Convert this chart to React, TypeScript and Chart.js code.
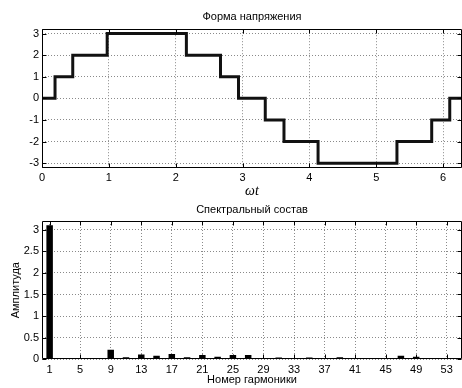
import React, { useEffect, useRef } from "react";
import { Chart, registerables } from "chart.js";
Chart.register(...registerables);

// ---- Data: voltage waveform (staircase) ----
const stepAngles = [0, 0.195, 0.46, 0.975, 2.16, 2.67, 2.94, 3.34, 3.62, 4.13, 5.31, 5.83, 6.1, 2 * Math.PI];
const stepLevels = [0, 1, 2, 3, 2, 1, 0, -1, -2, -3, -2, -1, 0, 0];
const waveXTicks = [0, 1, 2, 3, 4, 5, 6];
const waveYTicks = [-3, -2, -1, 0, 1, 2, 3];

// ---- Data: harmonic spectrum ----
const harmonics = [1, 3, 5, 7, 9, 11, 13, 15, 17, 19, 21, 23, 25, 27, 29, 31, 33, 35, 37, 39, 41, 43, 45, 47, 49, 51, 53];
const amplitudes = [3.1, 0, 0, 0, 0.22, 0.05, 0.11, 0.08, 0.12, 0.05, 0.1, 0.06, 0.1, 0.1, 0.01, 0.04, 0.01, 0.04, 0.01, 0.05, 0.01, 0.02, 0.01, 0.08, 0.06, 0.02, 0.01];
const specXTicks = [1, 5, 9, 13, 17, 21, 25, 29, 33, 37, 41, 45, 49, 53];
const specYTicks = [0, 0.5, 1, 1.5, 2, 2.5, 3];

const FONT = "'Liberation Sans', Arial, sans-serif";

const framePlugin = {
  id: "matlabFrame",
  afterDraw(chart: any) {
    const { ctx, chartArea: a, scales } = chart;
    ctx.save();
    ctx.strokeStyle = "#000";
    ctx.lineWidth = 1;
    const L = Math.round(a.left) + 0.5;
    const R = Math.round(a.right) - 0.5;
    const T = Math.round(a.top) + 0.5;
    const B = Math.round(a.bottom) - 0.5;
    ctx.beginPath();
    ctx.rect(L, T, R - L, B - T);
    ctx.stroke();
    const tl = 4;
    ctx.beginPath();
    for (const t of scales.x.ticks) {
      const px = Math.round(scales.x.getPixelForValue(t.value)) + 0.5;
      ctx.moveTo(px, B);
      ctx.lineTo(px, B - tl);
      ctx.moveTo(px, T);
      ctx.lineTo(px, T + tl);
    }
    for (const t of scales.y.ticks) {
      const py = Math.round(scales.y.getPixelForValue(t.value)) + 0.5;
      ctx.moveTo(L, py);
      ctx.lineTo(L + tl, py);
      ctx.moveTo(R, py);
      ctx.lineTo(R - tl, py);
    }
    ctx.stroke();
    ctx.restore();
  },
};

const plain = (v: any) => String(v);

function gridOpts() {
  return { color: "#8a8a8a", lineWidth: 1, drawTicks: false };
}
function borderOpts() {
  return { display: false, dash: [1, 2] };
}

export default function App() {
  const topRef = useRef<HTMLCanvasElement>(null);
  const botRef = useRef<HTMLCanvasElement>(null);

  useEffect(() => {
    Chart.defaults.font.family = FONT;
    Chart.defaults.color = "#000";

    const wave = new Chart(topRef.current!, {
      type: "line",
      data: {
        datasets: [
          {
            data: stepAngles.map((x, i) => ({ x, y: stepLevels[i] })),
            stepped: "before",
            borderColor: "#111",
            borderWidth: 3,
            pointRadius: 0,
            fill: false,
            borderJoinStyle: "miter",
          } as any,
        ],
      },
      options: {
        animation: false,
        responsive: false,
        devicePixelRatio: 1,
        layout: { padding: { left: 0, right: 0, top: 0, bottom: 0 } },
        plugins: {
          legend: { display: false },
          tooltip: { enabled: false },
          title: {
            display: true,
            fullSize: false,
            text: "Форма напряжения",
            color: "#000",
            font: { size: 11, weight: "normal", family: FONT },
            padding: { top: 10, bottom: 6 },
          },
        },
        scales: {
          x: {
            type: "linear",
            min: 0,
            max: 2 * Math.PI,
            afterBuildTicks: (s: any) => {
              s.ticks = waveXTicks.map((v) => ({ value: v }));
            },
            afterFit: (s: any) => {
              s.height = 32.5;
            },
            grid: gridOpts(),
            border: borderOpts(),
            ticks: { padding: 4, autoSkip: false, maxRotation: 0, font: { size: 11 }, color: "#000", callback: plain },
            title: {
              display: true,
              text: "ωt",
              color: "#000",
              font: { size: 14, style: "italic", family: "'Liberation Serif', 'DejaVu Serif', serif" },
              padding: { top: 0, bottom: 0 },
            },
          },
          y: {
            type: "linear",
            min: -3.2,
            max: 3.2,
            afterBuildTicks: (s: any) => {
              s.ticks = waveYTicks.map((v) => ({ value: v }));
            },
            afterFit: (s: any) => {
              s.width = 42;
            },
            grid: gridOpts(),
            border: borderOpts(),
            ticks: { padding: 3, autoSkip: false, font: { size: 11 }, color: "#000", callback: plain },
          },
        },
      },
      plugins: [framePlugin],
    } as any);

    const spec = new Chart(botRef.current!, {
      type: "bar",
      data: {
        datasets: [
          {
            data: harmonics.map((x, i) => ({ x, y: amplitudes[i] })),
            backgroundColor: "#000",
            borderColor: "#000",
            borderWidth: 0,
            barPercentage: 0.5,
            categoryPercentage: 0.85,
          } as any,
        ],
      },
      options: {
        animation: false,
        responsive: false,
        devicePixelRatio: 1,
        layout: { padding: { left: 0, right: 0, top: 0, bottom: 0 } },
        plugins: {
          legend: { display: false },
          tooltip: { enabled: false },
          title: {
            display: true,
            fullSize: false,
            text: "Спектральный состав",
            color: "#000",
            font: { size: 11, weight: "normal", family: FONT },
            padding: { top: 3.4, bottom: 4.4 },
          },
        },
        scales: {
          x: {
            type: "linear",
            min: 0,
            max: 55,
            offset: false,
            afterBuildTicks: (s: any) => {
              s.ticks = specXTicks.map((v) => ({ value: v }));
            },
            afterFit: (s: any) => {
              s.height = 28.7;
            },
            grid: { ...gridOpts(), offset: false },
            border: borderOpts(),
            ticks: { padding: 4, autoSkip: false, maxRotation: 0, font: { size: 11 }, color: "#000", callback: plain },
            title: {
              display: true,
              text: "Номер гармоники",
              color: "#000",
              font: { size: 11, family: FONT },
              padding: { top: 0, bottom: 1 },
            },
          },
          y: {
            type: "linear",
            min: 0,
            max: 3.2,
            afterBuildTicks: (s: any) => {
              s.ticks = specYTicks.map((v) => ({ value: v }));
            },
            afterFit: (s: any) => {
              s.width = 42;
            },
            grid: gridOpts(),
            border: borderOpts(),
            ticks: { padding: 3, autoSkip: false, font: { size: 11 }, color: "#000", callback: plain },
            title: {
              display: true,
              text: "Амплитуда",
              color: "#000",
              font: { size: 11, family: FONT },
              padding: { top: 9, bottom: 0 },
            },
          },
        },
      },
      plugins: [framePlugin],
    } as any);

    return () => {
      wave.destroy();
      spec.destroy();
    };
  }, []);

  return (
    <div style={{ position: "absolute", left: 0, top: 0, width: 462, height: 388, background: "#fff" }}>
      <canvas ref={topRef} width={462} height={200} style={{ position: "absolute", left: 0, top: 0, width: 462, height: 200 }} />
      <canvas ref={botRef} width={462} height={188} style={{ position: "absolute", left: 0, top: 200, width: 462, height: 188 }} />
    </div>
  );
}
